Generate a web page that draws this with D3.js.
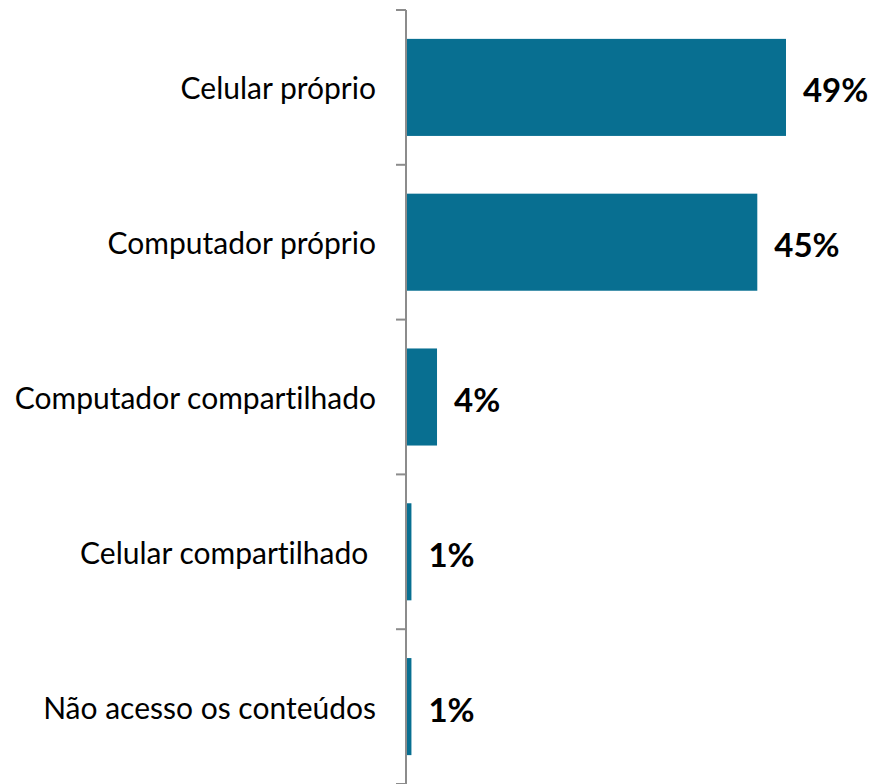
<!DOCTYPE html>
<html>
<head>
<meta charset="utf-8">
<script src="https://cdn.jsdelivr.net/npm/d3@7"></script>
<style>
  body { margin: 0; background: #fff; }
  svg { display: block; }
  .cat { font-family: Lato, "Noto Sans", sans-serif; font-size: 30px; fill: #000; white-space: pre; font-variant-ligatures: none; }
  .val { font-family: Lato, "Noto Sans", sans-serif; font-size: 33px; font-weight: bold; fill: #000; }
</style>
</head>
<body>
<div id="chart"></div>
<script>
const categories = ["Celular próprio", "Computador próprio", "Computador compartilhado", "Celular compartilhado ", "Não acesso os conteúdos"];
const values = [49.0, 45.3, 4.0, 0.7, 0.7];
const valueLabels = ["49%", "45%", "4%", "1%", "1%"];

const full_width = 871, full_height = 784;
const axisX = 406;

const svg = d3.select('#chart')
  .append('svg')
    .attr('width', full_width)
    .attr('height', full_height);

let x = d3.scaleLinear()
  .domain([0, 50])
  .range([axisX, axisX + 50 * 7.755]);

let y = d3.scaleBand()
  .domain(categories)
  .range([10, 784])
  .paddingInner(0.373)
  .paddingOuter(0.1865);

// bars
svg.append('g')
  .selectAll('rect')
  .data(categories)
  .enter()
  .append('rect')
    .attr('x', x(0))
    .attr('y', d => y(d))
    .attr('width', (d, i) => x(values[i]) - x(0))
    .attr('height', y.bandwidth())
    .attr('fill', '#086f91');

// value labels
svg.append('g')
  .selectAll('text')
  .data(categories)
  .enter()
  .append('text')
    .attr('class', 'val')
    .attr('x', (d, i) => x(values[i]) + 17)
    .attr('y', d => y(d) + y.bandwidth() / 2 + 2)
    .attr('dominant-baseline', 'central')
    .text((d, i) => valueLabels[i]);

// category labels
svg.append('g')
  .selectAll('text')
  .data(categories)
  .enter()
  .append('text')
    .attr('class', 'cat')
    .attr('x', 376)
    .attr('y', d => y(d) + y.bandwidth() / 2)
    .attr('text-anchor', 'end')
    .attr('dominant-baseline', 'central')
    .text(d => d);

// axis with ticks between categories
const axis = svg.append('g').attr('stroke', '#8c8c8c').attr('stroke-width', 2);
const edges = d3.range(categories.length + 1).map(i => y.range()[0] + i * y.step());
axis.append('line')
  .attr('x1', axisX).attr('x2', axisX)
  .attr('y1', edges[0]).attr('y2', edges[edges.length - 1]);
axis.selectAll('.tick')
  .data(edges)
  .enter()
  .append('line')
    .attr('x1', axisX - 10).attr('x2', axisX)
    .attr('y1', d => d).attr('y2', d => d);
</script>
</body>
</html>
